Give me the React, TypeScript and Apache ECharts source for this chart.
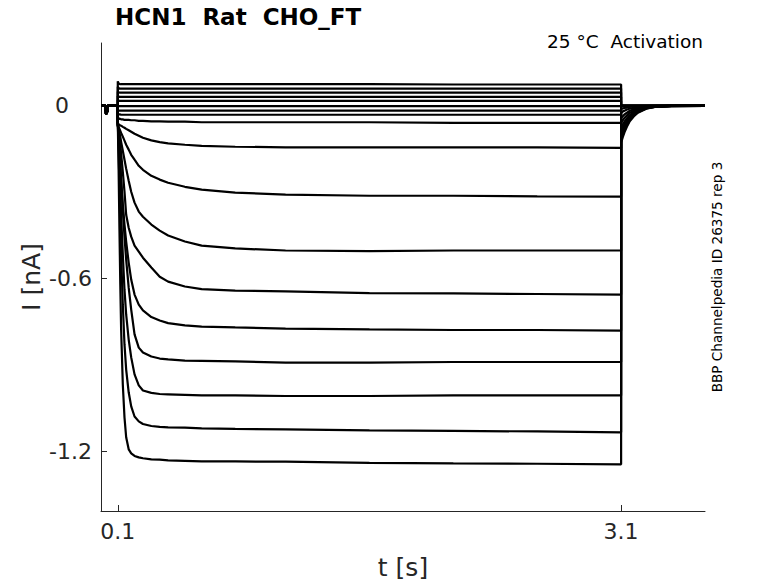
import React, { useEffect, useRef } from "react";
import * as echarts from "echarts";

// Holding period before the step (shared by all sweeps)
const PRE_T = [0, 0.028, 0.03, 0.037, 0.039, 0.1];
const PRE_I = [0, 0, -0.028, -0.02, 0, 0];

// Time points during the voltage step (s)
const STEP_T = [0.1, 0.105, 0.11, 0.115, 0.12, 0.13, 0.14, 0.15, 0.165, 0.18, 0.2, 0.225, 0.25, 0.3, 0.35, 0.4, 0.5, 0.6, 0.8, 1.1, 1.6, 2.1, 2.6, 3.1];

// Time points after the step (tail)
const TAIL_T = [3.1, 3.11, 3.12, 3.135, 3.15, 3.175, 3.2, 3.25, 3.3, 3.4, 3.6];

// Step currents (nA)
const TRACE_01 = [0.085, 0.078, 0.076, 0.075, 0.075, 0.075, 0.075, 0.075, 0.075, 0.075, 0.075, 0.075, 0.075, 0.075, 0.075, 0.075, 0.075, 0.075, 0.075, 0.075, 0.075, 0.074, 0.074, 0.074];
const TRACE_02 = [0.066, 0.062, 0.06, 0.06, 0.06, 0.06, 0.06, 0.06, 0.06, 0.06, 0.06, 0.06, 0.06, 0.06, 0.06, 0.06, 0.06, 0.06, 0.06, 0.06, 0.06, 0.06, 0.06, 0.06];
const TRACE_03 = [0.05, 0.047, 0.046, 0.046, 0.046, 0.046, 0.046, 0.046, 0.046, 0.046, 0.046, 0.046, 0.046, 0.046, 0.046, 0.046, 0.046, 0.046, 0.046, 0.046, 0.046, 0.046, 0.046, 0.046];
const TRACE_04 = [0.034, 0.032, 0.031, 0.031, 0.031, 0.031, 0.031, 0.031, 0.031, 0.031, 0.031, 0.031, 0.031, 0.031, 0.031, 0.031, 0.031, 0.031, 0.031, 0.031, 0.031, 0.031, 0.031, 0.031];
const TRACE_05 = [0.019, 0.018, 0.017, 0.017, 0.017, 0.017, 0.017, 0.017, 0.017, 0.017, 0.017, 0.017, 0.017, 0.017, 0.017, 0.017, 0.017, 0.017, 0.017, 0.017, 0.017, 0.017, 0.017, 0.017];
const TRACE_06 = [0.0, -0.001, -0.001, -0.001, -0.001, -0.001, -0.001, -0.001, -0.001, -0.001, -0.001, -0.001, -0.001, -0.001, -0.001, -0.001, -0.001, -0.001, -0.001, -0.001, -0.001, -0.001, -0.001, -0.001];
const TRACE_07 = [-0.015, -0.016, -0.017, -0.017, -0.017, -0.017, -0.017, -0.017, -0.017, -0.017, -0.017, -0.017, -0.017, -0.017, -0.017, -0.017, -0.017, -0.017, -0.017, -0.017, -0.017, -0.017, -0.017, -0.017];
const TRACE_08 = [-0.028, -0.029, -0.03, -0.03, -0.031, -0.031, -0.031, -0.031, -0.031, -0.031, -0.031, -0.031, -0.031, -0.031, -0.031, -0.031, -0.031, -0.031, -0.031, -0.031, -0.031, -0.031, -0.031, -0.031];
const TRACE_09 = [-0.042, -0.043, -0.045, -0.045, -0.047, -0.047, -0.049, -0.049, -0.049, -0.05, -0.05, -0.052, -0.052, -0.054, -0.054, -0.055, -0.055, -0.057, -0.057, -0.057, -0.057, -0.059, -0.059, -0.059];
const TRACE_10 = [-0.062, -0.064, -0.066, -0.068, -0.069, -0.073, -0.076, -0.08, -0.085, -0.09, -0.097, -0.104, -0.111, -0.12, -0.126, -0.13, -0.135, -0.139, -0.142, -0.144, -0.144, -0.144, -0.144, -0.146];
const TRACE_11 = [-0.066, -0.073, -0.08, -0.087, -0.094, -0.107, -0.121, -0.135, -0.152, -0.17, -0.187, -0.208, -0.222, -0.243, -0.256, -0.267, -0.281, -0.291, -0.301, -0.308, -0.312, -0.312, -0.314, -0.315];
const TRACE_12 = [-0.069, -0.08, -0.094, -0.107, -0.125, -0.156, -0.187, -0.218, -0.26, -0.298, -0.336, -0.367, -0.385, -0.412, -0.433, -0.45, -0.471, -0.485, -0.495, -0.502, -0.504, -0.502, -0.502, -0.502];
const TRACE_13 = [-0.066, -0.083, -0.107, -0.135, -0.166, -0.229, -0.298, -0.378, -0.423, -0.454, -0.485, -0.506, -0.527, -0.561, -0.593, -0.61, -0.627, -0.636, -0.641, -0.644, -0.65, -0.651, -0.653, -0.655];
const TRACE_14 = [-0.062, -0.09, -0.146, -0.198, -0.256, -0.343, -0.412, -0.471, -0.544, -0.603, -0.655, -0.69, -0.71, -0.733, -0.745, -0.754, -0.762, -0.766, -0.769, -0.773, -0.776, -0.778, -0.778, -0.78];
const TRACE_15 = [-0.059, -0.1, -0.152, -0.204, -0.263, -0.36, -0.454, -0.534, -0.631, -0.707, -0.793, -0.839, -0.856, -0.87, -0.877, -0.88, -0.884, -0.885, -0.887, -0.891, -0.891, -0.889, -0.889, -0.889];
const TRACE_16 = [-0.059, -0.118, -0.204, -0.291, -0.378, -0.516, -0.638, -0.724, -0.811, -0.873, -0.932, -0.97, -0.988, -0.996, -1.0, -1.001, -1.003, -1.005, -1.005, -1.007, -1.007, -1.005, -1.005, -1.005];
const TRACE_17 = [-0.055, -0.152, -0.274, -0.395, -0.516, -0.69, -0.828, -0.915, -0.994, -1.043, -1.078, -1.095, -1.104, -1.111, -1.114, -1.116, -1.117, -1.119, -1.121, -1.123, -1.126, -1.128, -1.13, -1.133];
const TRACE_18 = [-0.055, -0.222, -0.43, -0.62, -0.776, -0.967, -1.081, -1.15, -1.192, -1.206, -1.215, -1.22, -1.223, -1.227, -1.228, -1.23, -1.232, -1.234, -1.234, -1.235, -1.239, -1.241, -1.242, -1.244];

// Tail currents (nA) after the step
const TAIL_FLAT = [0, 0, 0, 0, 0, 0, 0, 0, 0, 0, 0];
const TAIL_10 = [-0.01, -0.009, -0.007, -0.006, -0.004, -0.003, -0.002, -0.001, 0, 0, 0];
const TAIL_11 = [-0.024, -0.02, -0.017, -0.013, -0.01, -0.007, -0.005, -0.002, -0.001, 0, 0];
const TAIL_12 = [-0.042, -0.036, -0.03, -0.024, -0.018, -0.012, -0.008, -0.003, -0.001, 0, 0];
const TAIL_13 = [-0.059, -0.05, -0.042, -0.033, -0.025, -0.017, -0.011, -0.005, -0.002, 0, 0];
const TAIL_14 = [-0.076, -0.065, -0.055, -0.043, -0.033, -0.022, -0.014, -0.006, -0.003, 0, 0];
const TAIL_15 = [-0.09, -0.077, -0.065, -0.05, -0.039, -0.026, -0.017, -0.007, -0.003, 0, 0];
const TAIL_16 = [-0.104, -0.088, -0.075, -0.058, -0.045, -0.03, -0.02, -0.008, -0.004, -0.001, 0];
const TAIL_17 = [-0.118, -0.1, -0.085, -0.066, -0.051, -0.034, -0.022, -0.009, -0.004, -0.001, 0];
const TAIL_18 = [-0.128, -0.109, -0.092, -0.072, -0.055, -0.037, -0.024, -0.01, -0.004, -0.001, 0];

const STEPS = [TRACE_01, TRACE_02, TRACE_03, TRACE_04, TRACE_05, TRACE_06, TRACE_07, TRACE_08, TRACE_09, TRACE_10, TRACE_11, TRACE_12, TRACE_13, TRACE_14, TRACE_15, TRACE_16, TRACE_17, TRACE_18];
const TAILS = [TAIL_FLAT, TAIL_FLAT, TAIL_FLAT, TAIL_FLAT, TAIL_FLAT, TAIL_FLAT, TAIL_FLAT, TAIL_FLAT, TAIL_FLAT, TAIL_10, TAIL_11, TAIL_12, TAIL_13, TAIL_14, TAIL_15, TAIL_16, TAIL_17, TAIL_18];

// Axis ticks
const X_TICKS = [0.1, 3.1];
const Y_TICKS = [0, -0.6, -1.2];

const FONT = "DejaVu Sans";
const AXIS_COLOR = "#262626";

export default function App() {
  const ref = useRef<HTMLDivElement>(null);

  useEffect(() => {
    if (!ref.current) return;
    const chart = echarts.init(ref.current, undefined, { renderer: "svg" });

    const series = STEPS.map((step, k) => {
      const data: number[][] = [];
      PRE_T.forEach((t, i) => data.push([t, PRE_I[i]]));
      STEP_T.forEach((t, i) => data.push([t, step[i]]));
      TAILS[k].forEach((v, i) => data.push([TAIL_T[i], v]));
      return {
        type: "line",
        name: "sweep " + (k + 1),
        data,
        showSymbol: false,
        symbol: "none",
        silent: true,
        lineStyle: { color: "#000", width: 2.2 },
        z: 2,
      };
    });

    chart.setOption({
      animation: false,
      backgroundColor: "#fff",
      grid: { left: 101, right: 73, top: 43, bottom: 72, containLabel: false },
      xAxis: {
        type: "value",
        min: 0,
        max: 3.6,
        axisLine: { show: true, onZero: false, lineStyle: { color: AXIS_COLOR, width: 1 } },
        axisTick: { show: true, inside: true, length: 6, customValues: X_TICKS, lineStyle: { color: AXIS_COLOR } },
        axisLabel: {
          customValues: X_TICKS,
          margin: 9,
          fontSize: 22,
          fontFamily: FONT,
          color: AXIS_COLOR,
          formatter: (v: number) => String(v),
        },
        splitLine: { show: false },
      },
      yAxis: {
        type: "value",
        min: -1.406,
        max: 0.218,
        axisLine: { show: true, onZero: false, lineStyle: { color: AXIS_COLOR, width: 1 } },
        axisTick: { show: true, inside: true, length: 6, customValues: Y_TICKS, lineStyle: { color: AXIS_COLOR } },
        axisLabel: {
          customValues: Y_TICKS,
          margin: 9,
          fontSize: 22,
          fontFamily: FONT,
          color: AXIS_COLOR,
          formatter: (v: number) => (Math.abs(v) < 1e-9 ? "{z|0}" : String(v)),
          rich: {
            z: { fontSize: 22, fontFamily: FONT, color: AXIS_COLOR, padding: [0, 23, 0, 0] },
          },
        },
        splitLine: { show: false },
      },
      graphic: [
        {
          type: "text",
          left: 115,
          top: 5,
          style: { text: "HCN1  Rat  CHO_FT", fontSize: 23, fontWeight: "bold", fontFamily: FONT, fill: "#000" },
        },
        {
          type: "text",
          x: 703,
          y: 41,
          style: { text: "25 °C  Activation", fontSize: 18.5, fontFamily: FONT, fill: "#000", align: "right", verticalAlign: "middle" },
        },
        {
          type: "text",
          x: 403,
          y: 567,
          style: { text: "t [s]", fontSize: 25, fontFamily: FONT, fill: AXIS_COLOR, align: "center", verticalAlign: "middle" },
        },
        {
          type: "text",
          x: 31,
          y: 277,
          rotation: Math.PI / 2,
          style: { text: "I [nA]", fontSize: 25, fontFamily: FONT, fill: AXIS_COLOR, align: "center", verticalAlign: "middle" },
        },
        {
          type: "text",
          x: 717,
          y: 277,
          rotation: Math.PI / 2,
          style: { text: "BBP Channelpedia ID 26375 rep 3", fontSize: 13.6, fontFamily: FONT, fill: "#000", align: "center", verticalAlign: "middle" },
        },
      ],
      series,
    });

    return () => chart.dispose();
  }, []);

  return <div ref={ref} style={{ position: "fixed", left: 0, top: 0, width: 778, height: 583 }} />;
}
